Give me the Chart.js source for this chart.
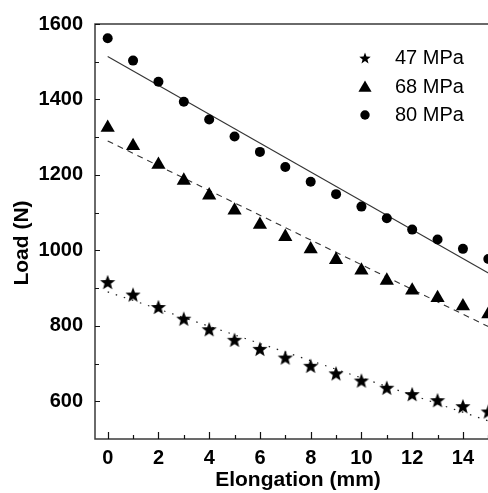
<!DOCTYPE html>
<html lang="en">
<head>
  <meta charset="UTF-8">
  <title>Load vs Elongation</title>
  <script src="https://cdn.jsdelivr.net/npm/chart.js"></script>
  <style>
    html, body { margin: 0; padding: 0; background: #fff; overflow: hidden; }
    #wrap { width: 488px; height: 493px; overflow: hidden; }
  </style>
</head>
<body>
  <div id="wrap"><canvas id="loadChart" width="510" height="493"></canvas></div>

  <script>
    // Measured load at each elongation step
    const elongation = [0, 1, 2, 3, 4, 5, 6, 7, 8, 9, 10, 11, 12, 13, 14, 15];
    const load47 = [916, 883, 850, 819, 791, 763, 739, 716, 694, 674, 655, 636, 619, 603, 587, 573];
    const load68 = [1325, 1277, 1227, 1185, 1146, 1106, 1068, 1036, 1003, 975, 947, 920, 894, 874, 852, 831];
    const load80 = [1562, 1503, 1447, 1394, 1347, 1302, 1261, 1221, 1182, 1149, 1116, 1085, 1055, 1029, 1004, 977];

    // Linear fits drawn through each series
    const fitX = [0, 15];
    const fit47 = [890, 548];
    const fit68 = [1290, 798];
    const fit80 = [1514, 940];

    const seriesLabels = ['47 MPa', '68 MPa', '80 MPa'];

    // Axis ticks
    const xTicks = [0, 2, 4, 6, 8, 10, 12, 14];
    const xMinorTicks = [1, 3, 5, 7, 9, 11, 13, 15];
    const yTicks = [600, 800, 1000, 1200, 1400, 1600];
    const yMinorTicks = [700, 900, 1100, 1300, 1500];

    const FONT = '"Liberation Sans", Arial, sans-serif';
    Chart.defaults.font.family = FONT;
    Chart.defaults.color = '#000';

    // filled five-point star, used as a point style
    function starImage(r) {
      const size = Math.ceil(r * 2 + 2);
      const c = document.createElement('canvas');
      c.width = size;
      c.height = size;
      const g = c.getContext('2d');
      const cx = size / 2, cy = size / 2 + r * 0.1;
      g.beginPath();
      for (let i = 0; i < 10; i++) {
        const rad = i % 2 === 0 ? r : r * 0.42;
        const ang = -Math.PI / 2 + i * Math.PI / 5;
        const px = cx + Math.cos(ang) * rad;
        const py = cy + Math.sin(ang) * rad;
        if (i === 0) g.moveTo(px, py); else g.lineTo(px, py);
      }
      g.closePath();
      g.fillStyle = '#000';
      g.fill();
      return c;
    }

    const plotStar = starImage(8);
    const legendStar = starImage(6);

    const pts = (xs, ys) => xs.map((x, i) => ({ x: x, y: ys[i] }));

    // frame, inward ticks, rotated y title and in-plot legend
    const decorPlugin = {
      id: 'decor',
      afterDraw(chart) {
        const { ctx, chartArea: a } = chart;
        const xs = chart.scales.x, ys = chart.scales.y;
        ctx.save();

        ctx.strokeStyle = '#3a3a3a';
        ctx.lineWidth = 1.5;
        ctx.strokeRect(a.left, a.top, a.right - a.left, a.bottom - a.top);

        ctx.strokeStyle = '#111';
        ctx.lineWidth = 1.2;
        ctx.beginPath();
        xTicks.concat(xMinorTicks).forEach(v => {
          const px = Math.round(xs.getPixelForValue(v)) + 0.5;
          const len = xTicks.includes(v) ? 7 : 4;
          ctx.moveTo(px, a.bottom);
          ctx.lineTo(px, a.bottom - len);
        });
        yTicks.concat(yMinorTicks).forEach(v => {
          const py = Math.round(ys.getPixelForValue(v)) + 0.5;
          const len = yTicks.includes(v) ? 5 : 4;
          ctx.moveTo(a.left, py);
          ctx.lineTo(a.left + len, py);
        });
        ctx.stroke();

        // y axis title
        ctx.translate(22, 243);
        ctx.rotate(-Math.PI / 2);
        ctx.font = 'bold 21px ' + FONT;
        ctx.textAlign = 'center';
        ctx.textBaseline = 'middle';
        ctx.fillStyle = '#000';
        ctx.fillText('Load (N)', 0, 0);
        ctx.setTransform(1, 0, 0, 1, 0, 0);

        // legend
        const lx = 365, tx = 395, rows = [58, 87, 115];
        ctx.drawImage(legendStar, lx - legendStar.width / 2, rows[0] - legendStar.height / 2);
        ctx.beginPath();
        const tr = 7.6;
        ctx.moveTo(lx, rows[1] + 1 - tr);
        ctx.lineTo(lx + tr * Math.sin(2 * Math.PI / 3), rows[1] + 1 + tr / 2);
        ctx.lineTo(lx - tr * Math.sin(2 * Math.PI / 3), rows[1] + 1 + tr / 2);
        ctx.closePath();
        ctx.fill();
        ctx.beginPath();
        ctx.arc(lx, rows[2], 4.7, 0, Math.PI * 2);
        ctx.fill();

        ctx.font = '20px ' + FONT;
        ctx.textAlign = 'left';
        ctx.textBaseline = 'middle';
        seriesLabels.forEach((t, i) => ctx.fillText(t, tx, rows[i]));

        ctx.restore();
      }
    };

    const ctx = document.getElementById('loadChart').getContext('2d');
    const chart = new Chart(ctx, {
      type: 'scatter',
      data: {
        datasets: [
          {
            label: seriesLabels[0],
            data: pts(elongation, load47),
            pointStyle: plotStar,
            pointRadius: 8,
            backgroundColor: '#000',
            borderColor: '#000'
          },
          {
            label: seriesLabels[1],
            data: pts(elongation, load68),
            pointStyle: 'triangle',
            pointRadius: 8.2,
            borderWidth: 0,
            backgroundColor: '#000',
            borderColor: '#000'
          },
          {
            label: seriesLabels[2],
            data: pts(elongation, load80),
            pointStyle: 'circle',
            pointRadius: 5,
            borderWidth: 0,
            backgroundColor: '#000',
            borderColor: '#000'
          },
          {
            label: 'fit 47',
            data: pts(fitX, fit47),
            showLine: true,
            pointRadius: 0,
            borderColor: '#222',
            borderWidth: 1.2,
            borderDash: [1.5, 7]
          },
          {
            label: 'fit 68',
            data: pts(fitX, fit68),
            showLine: true,
            pointRadius: 0,
            borderColor: '#333',
            borderWidth: 1.1,
            borderDash: [6, 5]
          },
          {
            label: 'fit 80',
            data: pts(fitX, fit80),
            showLine: true,
            pointRadius: 0,
            borderColor: '#333',
            borderWidth: 1.1
          }
        ]
      },
      options: {
        responsive: false,
        animation: false,
        devicePixelRatio: 1,
        layout: { padding: { top: 20, right: 9, left: 0, bottom: 0 } },
        plugins: {
          legend: { display: false },
          tooltip: { enabled: false }
        },
        scales: {
          x: {
            type: 'linear',
            min: -0.5,
            max: 15.5,
            grid: { display: false, drawTicks: false },
            border: { display: false },
            afterBuildTicks: s => { s.ticks = xTicks.map(v => ({ value: v })); },
            afterFit: s => { s.height = 54; },
            ticks: {
              padding: 7,
              maxRotation: 0,
              callback: v => String(v),
              font: { size: 20, weight: 'bold' }
            },
            title: {
              display: true,
              text: 'Elongation (mm)',
              padding: { top: 0, bottom: 0 },
              font: { size: 21, weight: 'bold' }
            }
          },
          y: {
            min: 500,
            max: 1600,
            grid: { display: false, drawTicks: false },
            border: { display: false },
            afterBuildTicks: s => { s.ticks = yTicks.map(v => ({ value: v })); },
            afterFit: s => { s.width = 95; },
            ticks: {
              padding: 12,
              callback: v => String(v),
              font: { size: 20, weight: 'bold' }
            }
          }
        }
      },
      plugins: [decorPlugin]
    });
  </script>
</body>
</html>
